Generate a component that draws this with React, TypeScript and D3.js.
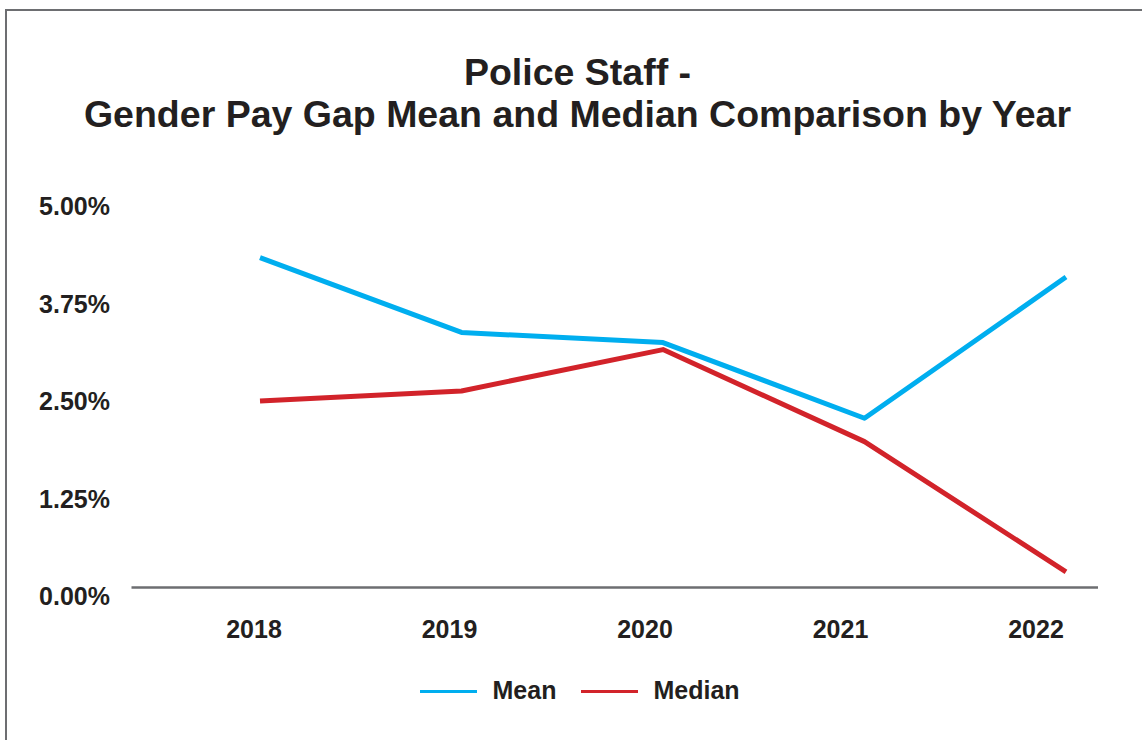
import React from "react";
import * as d3 from "d3";

const years: string[] = ["2018", "2019", "2020", "2021", "2022"];
const meanValues: number[] = [4.23, 3.27, 3.14, 2.17, 3.98];
const medianValues: number[] = [2.39, 2.52, 3.05, 1.87, 0.2];
const yTicks: number[] = [0, 1.25, 2.5, 3.75, 5];
const titleLines: string[] = ["Police Staff -", "Gender Pay Gap Mean and Median Comparison by Year"];
const seriesNames: string[] = ["Mean", "Median"];
const seriesColors: string[] = ["#00aeef", "#d2232a"];

const W = 1142;
const H = 740;
const FONT = "'Liberation Sans', Arial, Helvetica, sans-serif";
const TEXT = "#231f20";
const GREY = "#6d6e71";

export default function App() {
  const xLine = d3.scalePoint<string>().domain(years).range([260, 1066]);
  const xLabel = d3.scalePoint<string>().domain(years).range([254, 1036]);
  const y = d3.scaleLinear().domain([0, 5]).range([587.5, 197.5]);

  const line = d3
    .line<number>()
    .x((_, i) => xLine(years[i]) as number)
    .y((d) => y(d));

  const series = [meanValues, medianValues];
  const legendX = [420, 581];

  return (
    <svg
      width={W}
      height={H}
      style={{ position: "absolute", left: 0, top: 0, background: "#fff" }}
      fontFamily={FONT}
      fontWeight="bold"
    >
      <rect x={0} y={0} width={W} height={H} fill="#fff" />
      {/* frame */}
      <line x1={6} x2={6} y1={9} y2={H} stroke={GREY} strokeWidth={2} />
      <line x1={5} x2={W} y1={10} y2={10} stroke={GREY} strokeWidth={2} />

      {/* title */}
      {titleLines.map((t, i) => (
        <text key={t} x={577.5} y={85 + i * 42} textAnchor="middle" fontSize={37.5} fill={TEXT}>
          {t}
        </text>
      ))}

      {/* y tick labels */}
      {yTicks.map((v) => (
        <text key={v} x={110} y={y(v) + 17.5} textAnchor="end" fontSize={25} fill={TEXT}>
          {v.toFixed(2) + "%"}
        </text>
      ))}

      {/* x axis baseline */}
      <line x1={131.5} x2={1098} y1={y(0)} y2={y(0)} stroke={GREY} strokeWidth={2.5} />

      {/* x tick labels */}
      {years.map((yr) => (
        <text key={yr} x={xLabel(yr)} y={638} textAnchor="middle" fontSize={25} fill={TEXT}>
          {yr}
        </text>
      ))}

      {/* lines */}
      {series.map((s, i) => (
        <path
          key={seriesNames[i]}
          d={line(s) || ""}
          fill="none"
          stroke={seriesColors[i]}
          strokeWidth={5}
          strokeLinejoin="round"
        />
      ))}

      {/* legend */}
      {seriesNames.map((n, i) => (
        <g key={n}>
          <line x1={legendX[i]} x2={legendX[i] + 57} y1={691.5} y2={691.5} stroke={seriesColors[i]} strokeWidth={3} />
          <text x={legendX[i] + 72.5} y={699} fontSize={25} fill={TEXT}>
            {n}
          </text>
        </g>
      ))}
    </svg>
  );
}
